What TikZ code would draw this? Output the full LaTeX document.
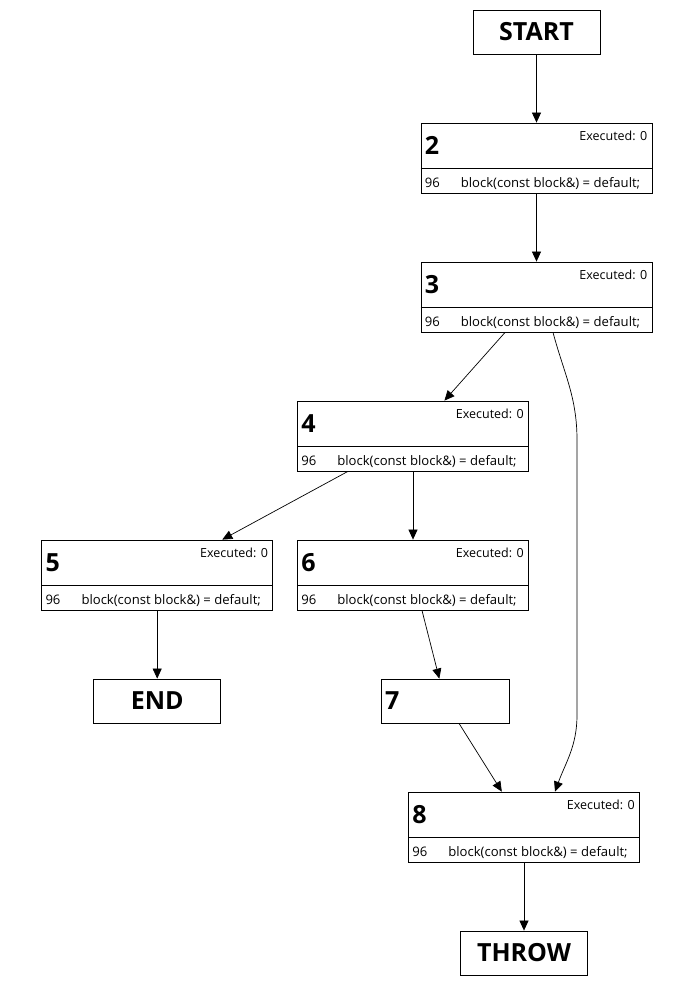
\documentclass[tikz,border=0pt]{standalone}
\usepackage{fontspec}
\setmainfont{Open Sans}
\usepackage{tikz}
\usetikzlibrary{arrows.meta,positioning}

\begin{document}
\begin{tikzpicture}[
    x=1pt, y=-1pt,
    node distance=68.2pt and 24pt,
    terminal/.style={rectangle, draw, line width=0.8pt, minimum width=127pt, minimum height=44pt, inner sep=0pt, font=\fontsize{25}{25}\selectfont\bfseries},
    plain/.style={rectangle, draw, line width=0.8pt, text width=120pt, inner xsep=4pt, inner ysep=0pt, minimum height=44pt, align=left, font=\fontsize{25}{25}\selectfont\bfseries},
    block/.style={rectangle, draw, line width=0.8pt, minimum width=231pt, minimum height=70pt, inner sep=0pt},
    num/.style={inner sep=0pt, font=\fontsize{25}{25}\selectfont\bfseries},
    small/.style={inner sep=0pt, font=\fontsize{12.5}{12.5}\selectfont},
    code/.style={inner sep=0pt, font=\fontsize{13.1}{13.1}\selectfont},
    line/.style={draw, -{Triangle[length=10pt,width=9pt]}, line width=0.7pt}
]
    \useasboundingbox (0,0) rectangle (698,986);

    \node [terminal] (start) at (536.5,32) {START};
    \node [block, below=of start] (b2) {};
    \node [block, below=of b2] (b3) {};
    \node [block, below=of b3, xshift=-123.5pt] (b4) {};
    \node [block, below=of b4] (b6) {};
    \node [block, left=of b6] (b5) {};
    \node [terminal, below=of b5] (end) {END};
    \node [plain, below=of b6, xshift=32pt] (n7) {7};
    \node [block, below=of n7, xshift=79pt] (b8) {};
    \node [terminal, below=of b8] (throw) {THROW};

    % block contents
    \foreach \b/\n in {b2/2, b3/3, b4/4, b5/5, b6/6, b8/8} {
        \draw [line width=0.8pt] ([yshift=25pt]\b.south west) -- ([yshift=25pt]\b.south east);
        \node [num, anchor=base west] (\b-num) at ([shift={(4pt,-32pt)}]\b.north west) {\n};
        \node [small, anchor=base east] (\b-exec) at ([shift={(-5pt,-18pt)}]\b.north east) {Executed: 0};
        \node [code, anchor=base west] (\b-line) at ([shift={(4pt,6pt)}]\b.south west) {96};
        \node [code, anchor=base west] (\b-code) at ([shift={(40pt,6pt)}]\b.south west) {block(const block\&) = default;};
    }

    \coordinate (bypass top) at (577,440);
    \coordinate (bypass bottom) at (577,715);

    \path [line] (start) -- (b2);
    \path [line] (b2) -- (b3);
    \path [line] (b3) -- (b4);
    \path [line] ([xshift=16.5pt]b3.south) to[out=-75, in=90] (bypass top) -- (bypass bottom) to[out=-90, in=70] ([xshift=31pt]b8.north);
    \path [line] (b4) -- (b5);
    \path [line] (b4) -- (b6);
    \path [line] (b5) -- (end);
    \path [line] (b6) -- (n7);
    \path [line] (n7) -- (b8);
    \path [line] (b8) -- (throw);
\end{tikzpicture}
\end{document}
